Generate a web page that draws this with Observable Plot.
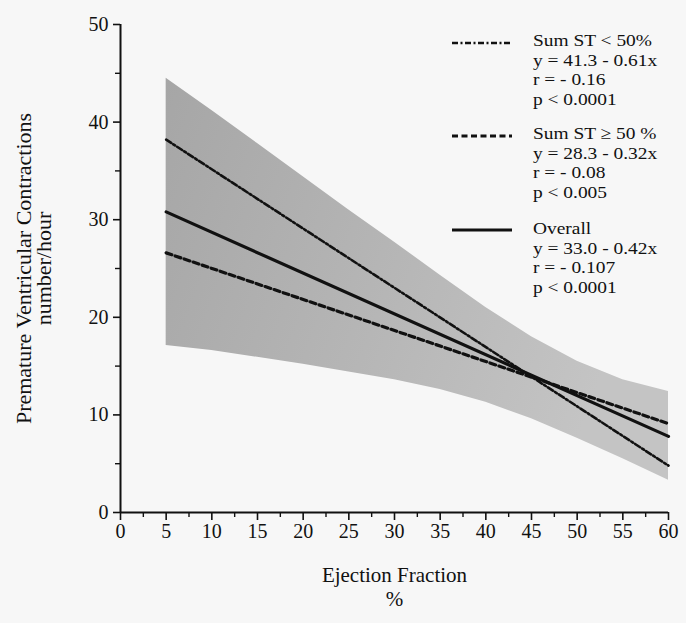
<!DOCTYPE html>
<html><head><meta charset="utf-8">
<script src="https://cdn.jsdelivr.net/npm/d3@7"></script>
<script src="https://cdn.jsdelivr.net/npm/@observablehq/plot@0.6"></script>
<style>
body{margin:0;background:#f7f7f7;}
#chart{position:relative;width:686px;height:623px;}
#legend{position:absolute;left:0;top:0;pointer-events:none;}
</style>
</head><body><div id="chart"></div>
<script>
const xTicks = [0,5,10,15,20,25,30,35,40,45,50,55,60];
const xMinorTicks = [2.5,7.5,12.5,17.5,22.5,27.5,32.5,37.5,42.5,47.5,52.5,57.5];
const yTicks = [0,10,20,30,40,50];
const yMinorTicks = [5,15,25,35,45];
const bandX = [5,10,15,20,25,30,35,40,45,50,55,60];
const bandUpper = [44.5,41.2,37.8,34.4,31.0,27.7,24.3,21.0,18.0,15.5,13.6,12.4];
const bandLower = [17.1,16.6,15.9,15.2,14.4,13.6,12.6,11.3,9.6,7.6,5.5,3.3];
const lineX = [5,60];
const sumLow = [38.2,4.8];
const sumHigh = [26.6,9.1];
const overall = [30.8,7.8];
const legendNames = ["Sum ST < 50%","Sum ST \u2265 50 %","Overall"];
const legendEquations = ["y = 41.3 - 0.61x","y = 28.3 - 0.32x","y = 33.0 - 0.42x"];
const legendR = ["r = - 0.16","r = - 0.08","r = - 0.107"];
const legendP = ["p < 0.0001","p < 0.005","p < 0.0001"];
const xLabel = "Ejection Fraction\n%";
const yLabel = "Premature Ventricular Contractions\nnumber/hour";

const band = bandX.map((x,i)=>({x, lo: bandLower[i], hi: bandUpper[i]}));
const mk = arr => lineX.map((x,i)=>({x, y: arr[i]}));
const dashDot = "6,2.5,2,2.5";
const dashed = "6,3.5";
const serif = "'Liberation Serif', 'DejaVu Serif', serif";

const defs = () => {
  const d = d3.create("svg:defs");
  const g = d.append("linearGradient").attr("id","bandGrad")
    .attr("x1",0).attr("x2",1).attr("y1",0).attr("y2",0.3);
  g.append("stop").attr("offset","0%").attr("stop-color","#a6a6a6");
  g.append("stop").attr("offset","55%").attr("stop-color","#b6b6b6");
  g.append("stop").attr("offset","100%").attr("stop-color","#c4c4c4");
  return d.node();
};

const chart = Plot.plot({
  width: 686, height: 623,
  marginLeft: 120, marginRight: 18, marginTop: 24, marginBottom: 111,
  x: {domain: [0,60]},
  y: {domain: [0,50]},
  style: {fontFamily: serif, fontSize: "20px", color: "#111", background: "transparent"},
  marks: [
    defs,
    Plot.areaY(band, {x: "x", y1: "lo", y2: "hi", fill: "url(#bandGrad)"}),
    Plot.line(mk(overall), {x: "x", y: "y", stroke: "#111", strokeWidth: 3.2}),
    Plot.line(mk(sumHigh), {x: "x", y: "y", stroke: "#111", strokeWidth: 3.2, strokeDasharray: dashed}),
    Plot.line(mk(sumLow), {x: "x", y: "y", stroke: "#111", strokeWidth: 2.6, strokeDasharray: dashDot}),
    Plot.ruleY([0], {stroke: "#111", strokeWidth: 2}),
    Plot.ruleX([0], {stroke: "#111", strokeWidth: 2}),
    Plot.axisX({ticks: xTicks, tickSize: 8, tickPadding: 3, label: null, strokeWidth: 1.6, fontSize: 20}),
    Plot.axisX({ticks: xMinorTicks, tickSize: 5, text: null, label: null, strokeWidth: 1.4}),
    Plot.axisY({ticks: yTicks, tickSize: 7, tickPadding: 5, label: null, strokeWidth: 1.6, fontSize: 20}),
    Plot.axisY({ticks: yMinorTicks, tickSize: 5, text: null, label: null, strokeWidth: 1.4}),
    Plot.text([xLabel], {frameAnchor: "bottom", textAnchor: "middle", dy: 93, fontSize: 21, lineHeight: 1.13, fill: "#111"}),
    Plot.text([yLabel], {frameAnchor: "left", textAnchor: "middle", rotate: -90, dx: -86, fontSize: 22, lineHeight: 0.93, fill: "#111"})
  ]
});
document.getElementById("chart").appendChild(chart);

// Legend overlay
const leg = d3.select("#chart").append("svg").attr("id","legend")
  .attr("width",686).attr("height",623)
  .style("font-family", serif)
  .style("font-size","17.5px");
const groupTop = [46, 139, 234];
const sampleY = [43, 136, 230];
const dashes = [dashDot, dashed, null];
const widths = [2.6, 3.2, 3.2];
const lineGap = 19.5;
legendNames.forEach((name,i)=>{
  leg.append("line").attr("x1",452).attr("x2",512).attr("y1",sampleY[i]).attr("y2",sampleY[i])
    .attr("stroke","#111").attr("stroke-width",widths[i])
    .attr("stroke-dasharray", dashes[i]);
  [name, legendEquations[i], legendR[i], legendP[i]].forEach((t,j)=>{
    leg.append("text")
      .attr("transform", `translate(533,${groupTop[i] + j*lineGap}) scale(1.11,1)`)
      .attr("fill","#111").text(t);
  });
});
</script>
</body></html>
